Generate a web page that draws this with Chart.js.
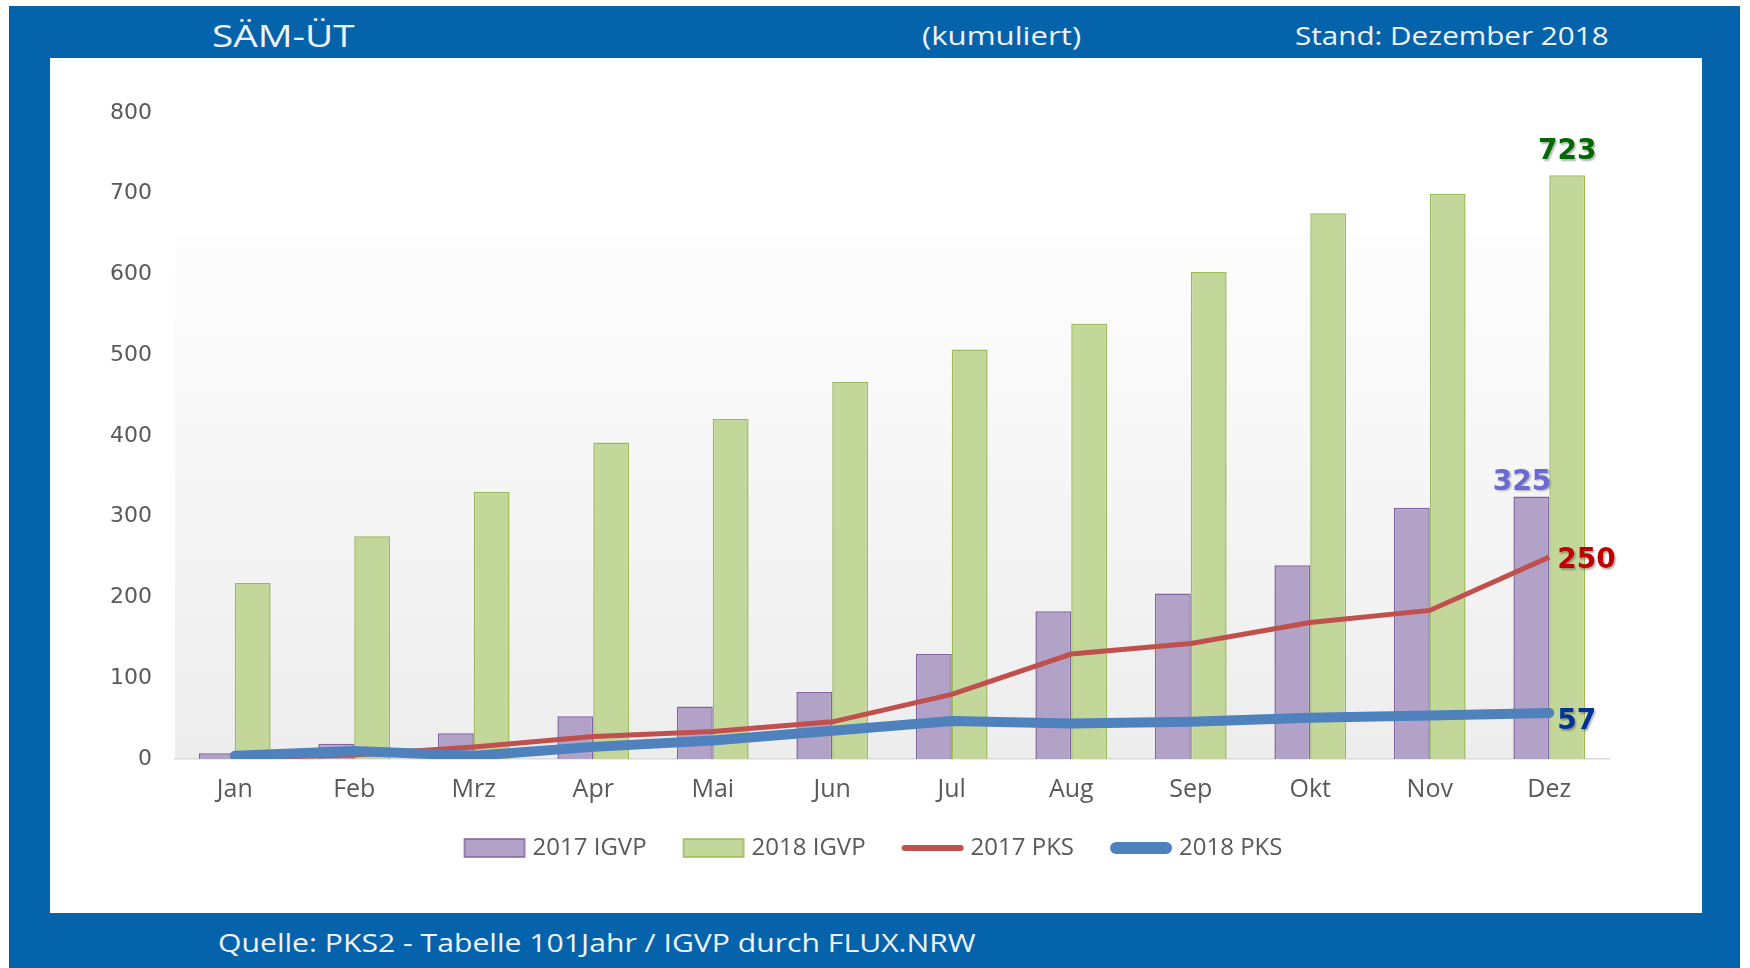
<!DOCTYPE html>
<html>
<head>
<meta charset="utf-8">
<script src="https://cdn.jsdelivr.net/npm/chart.js@4.4.1/dist/chart.umd.min.js"></script>
<style>
  html, body { margin: 0; padding: 0; background: #fff; }
  #frame { position: absolute; left: 9px; top: 6px; width: 1731px; height: 962px; background: #0563ab; }
  #panel { position: absolute; left: 50px; top: 58px; width: 1652px; height: 855px; background: #fff; }
  .txt { position: absolute; color: #eef4fa; font-family: "Open Sans", sans-serif; white-space: nowrap;
         line-height: 1; transform-origin: left center; }
</style>
</head>
<body>
<div id="frame"></div>
<div class="txt" style="left:212px; top:20px; font-size:31px; transform:scaleX(1.25);">SÄM-ÜT</div>
<div class="txt" style="left:922px; top:22px; font-size:26px; transform:scaleX(1.2);">(kumuliert)</div>
<div class="txt" style="left:1295px; top:22px; font-size:26px; transform:scaleX(1.14);">Stand: Dezember 2018</div>
<div class="txt" style="left:218px; top:929px; font-size:26px; transform:scaleX(1.16);">Quelle: PKS2 - Tabelle 101Jahr / IGVP durch FLUX.NRW</div>
<div id="panel"><canvas id="chart" width="1652" height="855"></canvas></div>
<script>
const months = ["Jan", "Feb", "Mrz", "Apr", "Mai", "Jun", "Jul", "Aug", "Sep", "Okt", "Nov", "Dez"];
const igvp2017 = [7, 19, 32, 53, 65, 83, 130, 183, 205, 240, 311, 325];
const igvp2018 = [218, 276, 331, 392, 421, 467, 507, 539, 603, 676, 700, 723];
const pks2017 = [1, 5, 15, 28, 34, 46, 80, 130, 143, 169, 184, 250];
const pks2018 = [4, 10, 4, 15, 23, 35, 47, 44, 46, 51, 54, 57];
const yTicks = [0, 100, 200, 300, 400, 500, 600, 700, 800];

const PURPLE = "#b3a2c7", PURPLE_EDGE = "#8064a2";
const GREEN = "#c4d79b", GREEN_EDGE = "#9bbb59";
const RED = "#c0504d", BLUE = "#4f81bd";

// legend swatches: the canvas is a bit wider than the legend box so the
// swatch sits close to its text and leaves a gap before it
const BOX_W = 78, OVER = 6;
function swatch(kind, fill, edge, thick) {
  const c = document.createElement("canvas");
  c.width = BOX_W + 2 * OVER; c.height = 24;
  const x0 = c.width - 64;
  const g = c.getContext("2d");
  if (kind === "box") {
    g.fillStyle = fill;
    g.fillRect(x0 + 2, 3, 60, 18);
    g.strokeStyle = edge;
    g.lineWidth = 1.5;
    g.strokeRect(x0 + 2, 3, 60, 18);
  } else {
    g.strokeStyle = fill;
    g.lineWidth = thick;
    g.lineCap = "round";
    g.beginPath();
    g.moveTo(x0 + thick / 2 + 1, 12);
    g.lineTo(x0 + 63 - thick / 2, 12);
    g.stroke();
  }
  return c;
}
const legendIcons = [
  swatch("box", PURPLE, PURPLE_EDGE),
  swatch("box", GREEN, GREEN_EDGE),
  swatch("line", RED, null, 6),
  swatch("line", BLUE, null, 12)
];

const plotBackground = {
  id: "plotBackground",
  beforeDraw(chart) {
    const { ctx, chartArea: a } = chart;
    const grad = ctx.createLinearGradient(0, a.top, 0, a.bottom);
    grad.addColorStop(0, "#ffffff");
    grad.addColorStop(0.2, "#fdfdfd");
    grad.addColorStop(1, "#ededed");
    ctx.save();
    ctx.fillStyle = grad;
    ctx.fillRect(a.left, a.top + 120, a.right - a.left - 60, a.bottom - a.top - 120);
    ctx.restore();
  }
};

const endLabels = {
  id: "endLabels",
  afterDatasetsDraw(chart) {
    const ctx = chart.ctx;
    const last = months.length - 1;
    const pt = (i) => chart.getDatasetMeta(i).data[last];
    ctx.save();
    ctx.font = "bold 28px 'DejaVu Sans'";
    ctx.shadowColor = "rgba(0,0,0,0.3)";
    ctx.shadowOffsetX = 1.5;
    ctx.shadowOffsetY = 1.5;
    ctx.shadowBlur = 2;

    const g = pt(1);
    ctx.fillStyle = "#006a00";
    ctx.textAlign = "center";
    ctx.textBaseline = "bottom";
    ctx.fillText(String(igvp2018[last]), g.x, g.y - 9);

    const p = pt(0);
    ctx.fillStyle = "#6a6ad2";
    ctx.textAlign = "right";
    ctx.fillText(String(igvp2017[last]), p.x + p.width / 2 + 2, p.y);

    const r = pt(2);
    ctx.fillStyle = "#c00000";
    ctx.textAlign = "left";
    ctx.textBaseline = "middle";
    ctx.fillText(String(pks2017[last]), r.x + 8, r.y + 4);

    const b = pt(3);
    ctx.fillStyle = "#003399";
    ctx.fillText(String(pks2018[last]), b.x + 8, b.y + 9);
    ctx.restore();
  }
};

new Chart(document.getElementById("chart").getContext("2d"), {
  type: "bar",
  data: {
    labels: months,
    datasets: [
      { label: "2017 IGVP", data: igvp2017, backgroundColor: PURPLE, borderColor: PURPLE_EDGE, borderWidth: 1.5, order: 3 },
      { label: "2018 IGVP", data: igvp2018, backgroundColor: GREEN, borderColor: GREEN_EDGE, borderWidth: 1.5, order: 3 },
      { type: "line", label: "2017 PKS", data: pks2017, borderColor: RED, borderWidth: 5, pointRadius: 0, tension: 0, order: 1 },
      { type: "line", label: "2018 PKS", data: pks2018, borderColor: BLUE, borderWidth: 10, pointRadius: 0, tension: 0, borderCapStyle: "round", order: 0 }
    ]
  },
  options: {
    responsive: false,
    animation: false,
    layout: { padding: { top: 55, right: 27, left: 0, bottom: 43 } },
    datasets: { bar: { categoryPercentage: 0.6, barPercentage: 1.0 } },
    scales: {
      x: {
        grid: { display: false, drawTicks: false },
        border: { color: "#d9d9d9", width: 1.5 },
        ticks: { color: "#595959", padding: 16, font: { family: "Open Sans", size: 25 } }
      },
      y: {
        min: 0, max: 800,
        afterFit(scale) { scale.width = 125; },
        afterBuildTicks(scale) { scale.ticks = yTicks.map(v => ({ value: v })); },
        grid: { display: false, drawTicks: false },
        border: { display: false },
        ticks: { color: "#595959", padding: 23, font: { family: "DejaVu Sans", size: 22 } }
      },
      // empty right-hand axis, only to keep the plot narrower than the legend row
      y2: {
        position: "right",
        afterFit(scale) { scale.width = 66; },
        grid: { display: false, drawTicks: false },
        border: { display: false },
        ticks: { display: false }
      }
    },
    plugins: {
      tooltip: { enabled: false },
      legend: {
        position: "bottom",
        labels: {
          usePointStyle: true,
          pointStyleWidth: BOX_W,
          padding: 15,
          color: "#595959",
          font: { family: "Open Sans", size: 24 },
          generateLabels(chart) {
            return Chart.defaults.plugins.legend.labels.generateLabels(chart)
              .sort((a, b) => a.datasetIndex - b.datasetIndex)
              .map(item => {
                item.pointStyle = legendIcons[item.datasetIndex];
                return item;
              });
          }
        }
      }
    }
  },
  plugins: [plotBackground, endLabels]
});
</script>
</body>
</html>
